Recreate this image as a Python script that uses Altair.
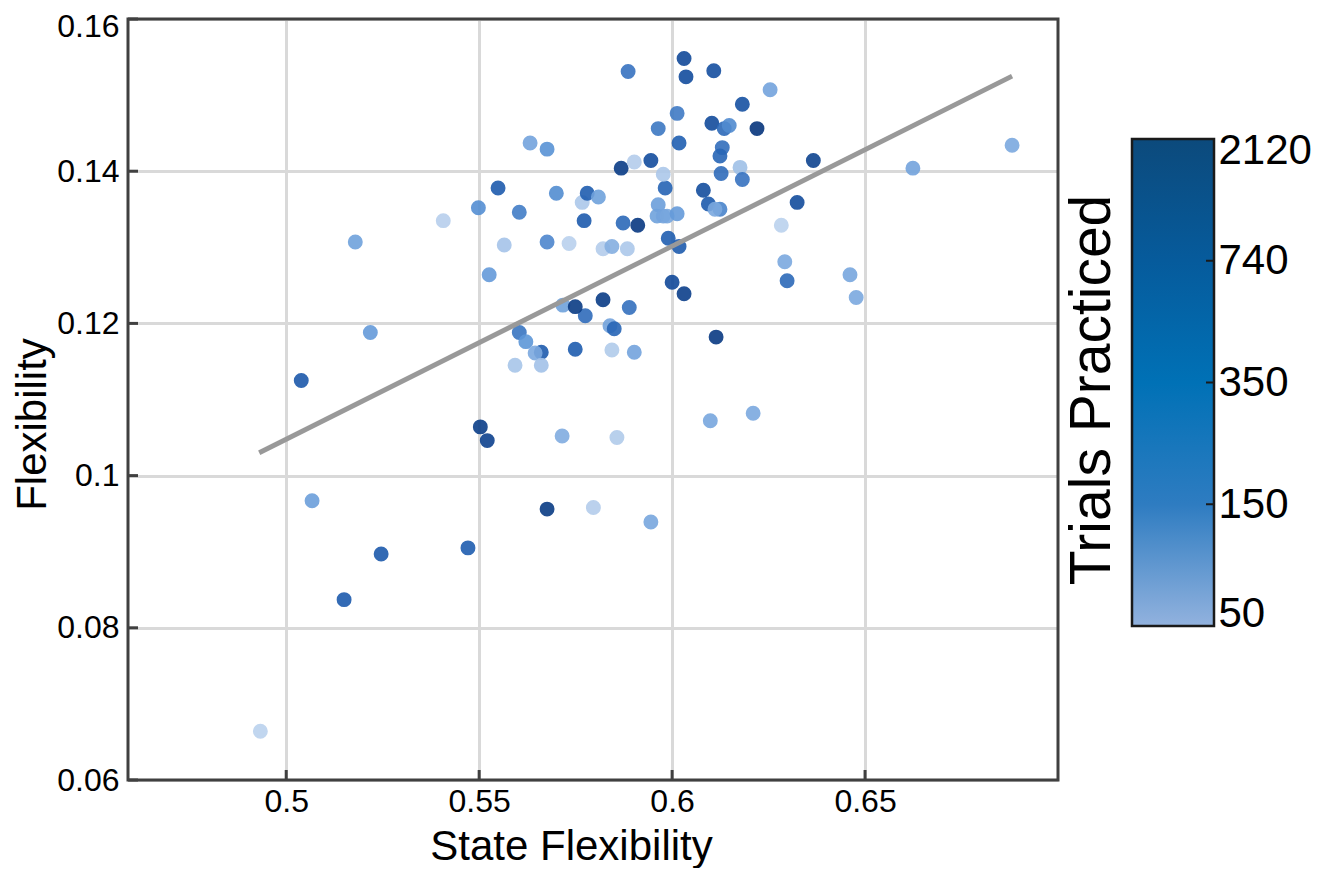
import altair as alt
import numpy as np
import pandas as pd

# ---------------- data ----------------
state_flex = [
    0.4933, 0.5150, 0.5039, 0.5067, 0.5246, 0.5471, 0.5676, 0.5796, 0.5945, 0.5503,
    0.5521, 0.5715, 0.5857, 0.5179, 0.5407, 0.5498, 0.5549, 0.5604, 0.5632, 0.5676,
    0.5700, 0.5767, 0.5780, 0.5809, 0.5772, 0.5565, 0.5526, 0.5676, 0.5733, 0.5821,
    0.5844, 0.5884, 0.5886, 0.5964, 0.5868, 0.5902, 0.5945, 0.6031, 0.6036, 0.6108,
    0.6254, 0.6182, 0.6013, 0.6103, 0.6135, 0.6148, 0.6220, 0.6018, 0.6130, 0.6124,
    0.6176, 0.6127, 0.6182, 0.6081, 0.6094, 0.6124, 0.6111, 0.5982, 0.5977, 0.6324,
    0.6366, 0.6624, 0.6881, 0.6283, 0.6292, 0.6298, 0.6461, 0.6477, 0.5964, 0.5961,
    0.5977, 0.5987, 0.6013, 0.5873, 0.5911, 0.5990, 0.6018, 0.6000, 0.6031, 0.5821,
    0.5889, 0.5775, 0.5839, 0.5850, 0.6114, 0.5749, 0.5844, 0.5902, 0.6099, 0.6210,
    0.5218, 0.5604, 0.5621, 0.5661, 0.5645, 0.5593, 0.5661, 0.5717, 0.5749,
]
flexibility = [
    0.0664, 0.0837, 0.1125, 0.0967, 0.0897, 0.0905, 0.0956, 0.0958, 0.0939, 0.1064,
    0.1046, 0.1052, 0.1050, 0.1307, 0.1335, 0.1352, 0.1378, 0.1346, 0.1437, 0.1429,
    0.1371, 0.1359, 0.1371, 0.1366, 0.1335, 0.1303, 0.1264, 0.1307, 0.1305, 0.1298,
    0.1301, 0.1298, 0.1531, 0.1456, 0.1404, 0.1412, 0.1414, 0.1548, 0.1524, 0.1532,
    0.1507, 0.1488, 0.1476, 0.1463, 0.1456, 0.1460, 0.1456, 0.1437, 0.1431, 0.1420,
    0.1405, 0.1397, 0.1389, 0.1375, 0.1357, 0.1350, 0.1350, 0.1378, 0.1396, 0.1359,
    0.1414, 0.1404, 0.1434, 0.1329, 0.1281, 0.1256, 0.1264, 0.1234, 0.1356, 0.1341,
    0.1341, 0.1341, 0.1344, 0.1332, 0.1329, 0.1312, 0.1301, 0.1254, 0.1239, 0.1231,
    0.1221, 0.1210, 0.1197, 0.1193, 0.1182, 0.1166, 0.1165, 0.1162, 0.1072, 0.1082,
    0.1188, 0.1188, 0.1176, 0.1162, 0.1161, 0.1145, 0.1145, 0.1224, 0.1222,
]
trials = [
    55, 420, 450, 130, 430, 380, 1600, 60, 115, 1400,
    1200, 105, 62, 125, 58, 170, 400, 220, 120, 160,
    175, 65, 380, 125, 400, 70, 140, 190, 56, 60,
    100, 65, 260, 240, 1500, 60, 700, 800, 700, 650,
    120, 600, 230, 750, 300, 180, 2100, 350, 280, 320,
    75, 290, 260, 680, 420, 200, 110, 330, 65, 720,
    1100, 120, 110, 55, 110, 300, 115, 110, 130, 125,
    120, 115, 140, 300, 1800, 360, 400, 800, 1300, 1500,
    270, 290, 120, 320, 1700, 380, 62, 120, 115, 110,
    140, 250, 150, 400, 110, 68, 72, 125, 1600,
]

fit_x = [0.4930, 0.6881]
fit_y = [0.1030, 0.1525]

x_ticks = [0.5, 0.55, 0.6, 0.65]
y_ticks = [0.06, 0.08, 0.10, 0.12, 0.14, 0.16]
cbar_values = [50, 150, 350, 740, 2120]
cbar_labels = ["50", "150", "350", "740", "2120"]
cbar_title = "Trials Practiced"

point_colors = ["#c4d8f0", "#5e97d8", "#2160b2", "#134c9c", "#07367d"]
bar_colors = ["#92b2de", "#2e7cc1", "#0071b6", "#065b9c", "#0c4a7c"]

FONT = "Liberation Sans"
W, H = 930, 761

df = pd.DataFrame({"sf": state_flex, "flex": flexibility, "trials": trials})
levels = np.arange(len(cbar_values))
df["level"] = np.interp(np.log(df["trials"]), np.log(cbar_values), levels)

xs = alt.Scale(domain=[0.459, 0.70], nice=False, zero=False)
ys = alt.Scale(domain=[0.06, 0.16], nice=False, zero=False)

x_axis = alt.Axis(
    values=x_ticks, format="~g", title="State Flexibility",
    labelFont=FONT, labelFontSize=32, labelColor="black", labelPadding=6,
    titleFont=FONT, titleFontSize=42, titleFontWeight="normal", titleColor="black",
    titlePadding=9, titleX=443, ticks=False, domain=False, grid=True,
    gridColor="#d9d9d9", gridWidth=3,
)
y_axis = alt.Axis(
    values=y_ticks, format="~g", title="Flexibility",
    labelFont=FONT, labelFontSize=32, labelColor="black", labelPadding=9,
    labelOffset={"condition": {"test": "datum.value > 0.155", "value": 7}, "value": 0},
    titleFont=FONT, titleFontSize=42, titleFontWeight="normal", titleColor="black",
    titlePadding=2, titleY=405, ticks=False, domain=False, grid=True,
    gridColor="#d9d9d9", gridWidth=3,
)

point_scale = alt.Scale(domain=[0, 4], range=point_colors)
points = alt.Chart(df).mark_circle(size=180, opacity=0.9, strokeWidth=1.5).encode(
    x=alt.X("sf:Q", scale=xs, axis=x_axis),
    y=alt.Y("flex:Q", scale=ys, axis=y_axis),
    fill=alt.Fill("level:Q", scale=point_scale, legend=None),
    stroke=alt.Stroke("level:Q", scale=point_scale, legend=None),
)

fit_df = pd.DataFrame({"x": fit_x, "y": fit_y})
fit_line = alt.Chart(fit_df).mark_line(color="#999999", strokeWidth=4.8).encode(
    x=alt.X("x:Q", scale=xs, axis=x_axis),
    y=alt.Y("y:Q", scale=ys, axis=y_axis),
)

xt_df = pd.DataFrame({"v": x_ticks})
x_tick_marks = alt.Chart(xt_df).mark_rule(color="#404040", strokeWidth=3).encode(
    x=alt.X("v:Q", scale=xs, axis=x_axis),
    y=alt.value(H), y2=alt.value(H - 10),
)
yt_df = pd.DataFrame({"v": y_ticks})
y_tick_marks = alt.Chart(yt_df).mark_rule(color="#404040", strokeWidth=3).encode(
    y=alt.Y("v:Q", scale=ys, axis=y_axis),
    x=alt.value(0), x2=alt.value(10),
)

frame = alt.Chart(pd.DataFrame({"a": [0]})).mark_rect(
    fill="transparent", stroke="#404040", strokeWidth=3
).encode(x=alt.value(0), x2=alt.value(W), y=alt.value(0), y2=alt.value(H))

cbar_title_mark = alt.Chart(pd.DataFrame({"t": [cbar_title]})).mark_text(
    angle=270, font=FONT, fontSize=57, color="black", align="center", baseline="alphabetic"
).encode(text="t:N", x=alt.value(982), y=alt.value(371))

main = alt.layer(points, fit_line, x_tick_marks, y_tick_marks, frame, cbar_title_mark)

# ---------------- colour bar (own scale, same levels as the points) ----------------
CB_LEFT, CB_RIGHT = 1004, 1086
cb_scale = alt.Scale(domain=[0, 4], range=[607, 120], nice=False, zero=False)
cb_axis = alt.Axis(
    orient="right", offset=CB_RIGHT - W, values=[int(v) for v in levels],
    labelExpr="['" + "','".join(cbar_labels) + "'][datum.value]",
    labelFont=FONT, labelFontSize=42, labelColor="black", labelPadding=4,
    labelFlush=True, labelFlushOffset=9, ticks=False, domain=False, grid=False, title=None,
)
gradient = alt.Gradient(
    gradient="linear",
    stops=[alt.GradientStop(color=c, offset=i / (len(bar_colors) - 1)) for i, c in enumerate(bar_colors)],
    x1=0, x2=0, y1=1, y2=0,
)
cb_df = pd.DataFrame({"lo": [levels[0]], "hi": [levels[-1]]})
cb_rect = alt.Chart(cb_df).mark_rect(fill=gradient, stroke="#1a1a1a", strokeWidth=2.5).encode(
    y=alt.Y("lo:Q", scale=cb_scale, axis=cb_axis),
    y2="hi:Q",
    x=alt.value(CB_LEFT), x2=alt.value(CB_RIGHT),
)
cb_tick_df = pd.DataFrame({"v": levels[1:-1]})
cb_ticks = alt.Chart(cb_tick_df).mark_rule(color="#1a1a1a", strokeWidth=2).encode(
    y=alt.Y("v:Q", scale=cb_scale, axis=cb_axis),
    x=alt.value(CB_RIGHT - 8), x2=alt.value(CB_RIGHT),
)
cbar = alt.layer(cb_rect, cb_ticks)

chart = alt.layer(main, cbar).resolve_scale(y="independent").properties(
    width=W, height=H,
    autosize=alt.AutoSizeParams(type="none"),
    padding={"left": 120, "top": 11, "right": 270, "bottom": 88},
).configure_view(stroke=None).configure(background="white")

chart.save("out.html", embed_options={"renderer": "svg", "actions": False})
